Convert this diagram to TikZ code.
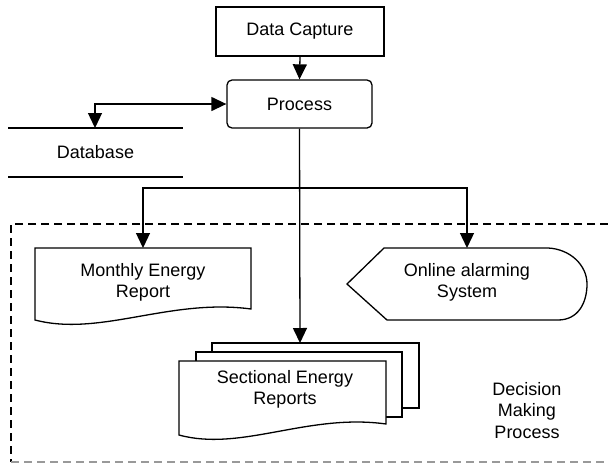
\documentclass[tikz,border=0pt]{standalone}
\usepackage{fontspec}
\setmainfont{Liberation Sans}
\usetikzlibrary{arrows.meta}
\begin{document}
\begin{tikzpicture}[x=1pt,y=-1pt,
  every node/.style={font=\fontsize{18}{21}\selectfont, inner sep=0pt},
  ln/.style={line width=1.3pt, line join=miter},
  tip/.tip={Triangle[length=15pt,width=14pt]},
  arr/.style={ln, -tip},
  darr/.style={ln, tip-tip},
  boxst/.style={ln, draw, minimum width=168pt, minimum height=49pt},
  procst/.style={ln, draw, rounded corners=5pt, minimum width=145pt, minimum height=48pt},
  sheet/.style={ln, draw, fill=white},
  dashbox/.style={line width=1.3pt, dash pattern=on 8pt off 5pt},
  dashgrey/.style={line width=1.1pt, draw=black!40, dash pattern=on 8pt off 5pt},
  txt/.style={align=center}]
\useasboundingbox (0,0) rectangle (608,464);

% dashed region
\draw[dashbox] (608,224) -- (11,224) -- (11,462);
\draw[dashgrey] (11,462) -- (608,462);

% Data capture and process
\node[boxst] (dc) at (300,31.5) {Data Capture};
\node[procst] (proc) at (299.5,104) {Process};

% Database
\draw[ln] (8,128) -- (183,128);
\draw[ln] (8,177) -- (183,177);
\node (db) at (95.5,152.5) {Database};
\coordinate (dbtop) at (95,128);

% Monthly Energy Report (document)
\draw[sheet] (35,248) -- (251,248) -- (251,309)
  .. controls (170,298) and (100,337) .. (35,320) -- cycle;
\node[txt] (mon) at (143,282) {Monthly Energy\\Report};
\coordinate (montop) at (143,248);

% Online alarming System (display)
\draw[sheet] (347,284) -- (384,248) -- (548,248)
  .. controls (570,249) and (587,265) .. (587,284)
  .. controls (587,303) and (578,320) .. (558,320)
  -- (387,320) -- cycle;
\node[txt] (onl) at (467,282) {Online alarming\\System};
\coordinate (onltop) at (467,248);

% Sectional Energy Reports (multi-document)
\draw[sheet] (212,343) rectangle (419,408);
\draw[sheet] (196,352) rectangle (402,417);
\draw[sheet] (179,361) -- (386,361) -- (386,424)
  .. controls (308,413) and (241,452) .. (179,435) -- cycle;
\node[txt] (sec) at (285,389.5) {Sectional Energy\\Reports};
\coordinate (sectop) at (300,343);

% Decision making label
\node[txt, font=\fontsize{18}{21.5}\selectfont] (dmp) at (527,410.5) {Decision\\Making\\Process};

% connectors
\coordinate (br) at (300,188);
\draw[arr] (dc.south) -- (proc.north);
\draw[darr] (proc.west |- 0,104) -| (dbtop);
\draw[arr] (proc.south) -- (sectop);
\draw[arr] (br) -| (montop);
\draw[arr] (br) -| (onltop);
\end{tikzpicture}
\end{document}
